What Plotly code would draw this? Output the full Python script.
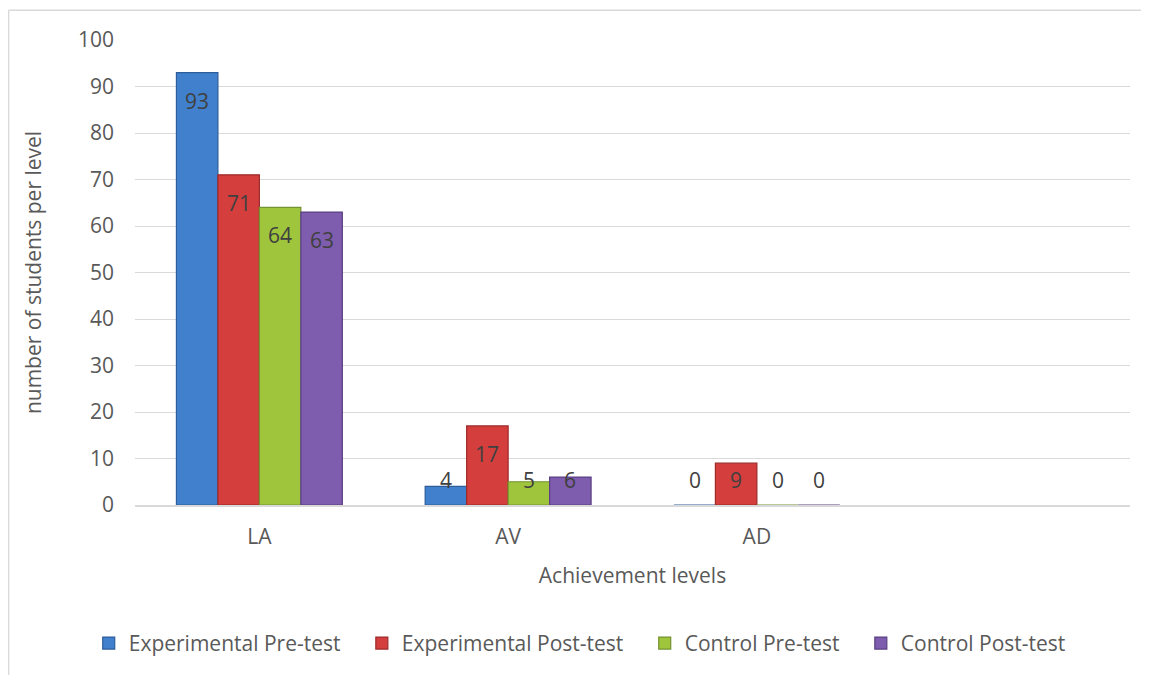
import plotly.graph_objects as go

categories = ["LA", "AV", "AD", " "]
series_names = ["Experimental Pre-test", "Experimental Post-test", "Control Pre-test", "Control Post-test"]
exp_pre = [93, 4, 0]
exp_post = [71, 17, 9]
ctl_pre = [64, 5, 0]
ctl_post = [63, 6, 0]
y_ticks = [0, 10, 20, 30, 40, 50, 60, 70, 80, 90, 100]

series_values = [exp_pre, exp_post, ctl_pre, ctl_post]
fill_colors = ["#4180CC", "#D43F3D", "#9FC53D", "#7E5CAE"]
line_colors = ["#2D5D9B", "#9C2B2A", "#739330", "#5B3F82"]

FONT = "Open Sans"
TXT = "#595959"
LBL = "#404040"
GRID = "#D9D9D9"
BARGAP = 0.333
FS = 21
PAD = "\u00a0" * 3

fig = go.Figure()
for name, vals, fc, lc in zip(series_names, series_values, fill_colors, line_colors):
    fig.add_trace(go.Bar(
        name=name + PAD,
        x=categories[:len(vals)],
        y=vals,
        marker=dict(color=fc, line=dict(color=lc, width=1.2)),
    ))

# data labels (inside end, Excel style)
n = len(series_values)
slot = (1 - BARGAP) / n
annotations = []
for si, vals in enumerate(series_values):
    off = (si - (n - 1) / 2) * slot
    for ci, v in enumerate(vals):
        annotations.append(dict(
            x=ci + off, y=max(v, 11.4), xref="x", yref="y",
            text=str(v), showarrow=False, yshift=-28,
            font=dict(family=FONT, size=FS, color=LBL),
            xanchor="center", yanchor="middle",
        ))

shapes = [
    dict(type="line", xref="paper", yref="paper", x0=-0.1271, x1=1.05, y0=1.064, y1=1.064,
         line=dict(color="#D9D9D9", width=1.5)),
    dict(type="line", xref="paper", yref="paper", x0=-0.1271, x1=-0.1271, y0=1.064, y1=-0.4,
         line=dict(color="#D9D9D9", width=1.5)),
]

fig.update_layout(
    width=1141, height=667,
    margin=dict(l=127, r=19, t=32, b=169),
    paper_bgcolor="white", plot_bgcolor="white",
    barmode="group", bargap=BARGAP, bargroupgap=0,
    font=dict(family=FONT, size=FS, color=TXT),
    xaxis=dict(
        type="category", categoryorder="array", categoryarray=categories,
        range=[-0.5, 3.5],
        showline=True, linecolor=GRID, linewidth=1.5,
        showgrid=False, ticks="", ticklabelstandoff=12,
        tickfont=dict(family=FONT, size=FS, color=TXT),
        title=dict(text="Achievement levels", standoff=19,
                   font=dict(family=FONT, size=FS, color=TXT)),
    ),
    yaxis=dict(
        range=[0, 100], tickvals=y_ticks,
        showgrid=True, gridcolor=GRID, gridwidth=1.2,
        zeroline=False, showline=False, ticks="",
        ticklabelstandoff=20,
        tickfont=dict(family=FONT, size=FS, color=TXT),
        title=dict(text="number of students per level", standoff=30,
                   font=dict(family=FONT, size=FS, color=TXT)),
    ),
    legend=dict(
        orientation="h", x=0.455, xanchor="center", y=-0.295, yanchor="middle",
        font=dict(family=FONT, size=FS, color=TXT),
        itemwidth=30, traceorder="normal",
    ),
    annotations=annotations,
    shapes=shapes,
)

fig.write_html("out.html")
